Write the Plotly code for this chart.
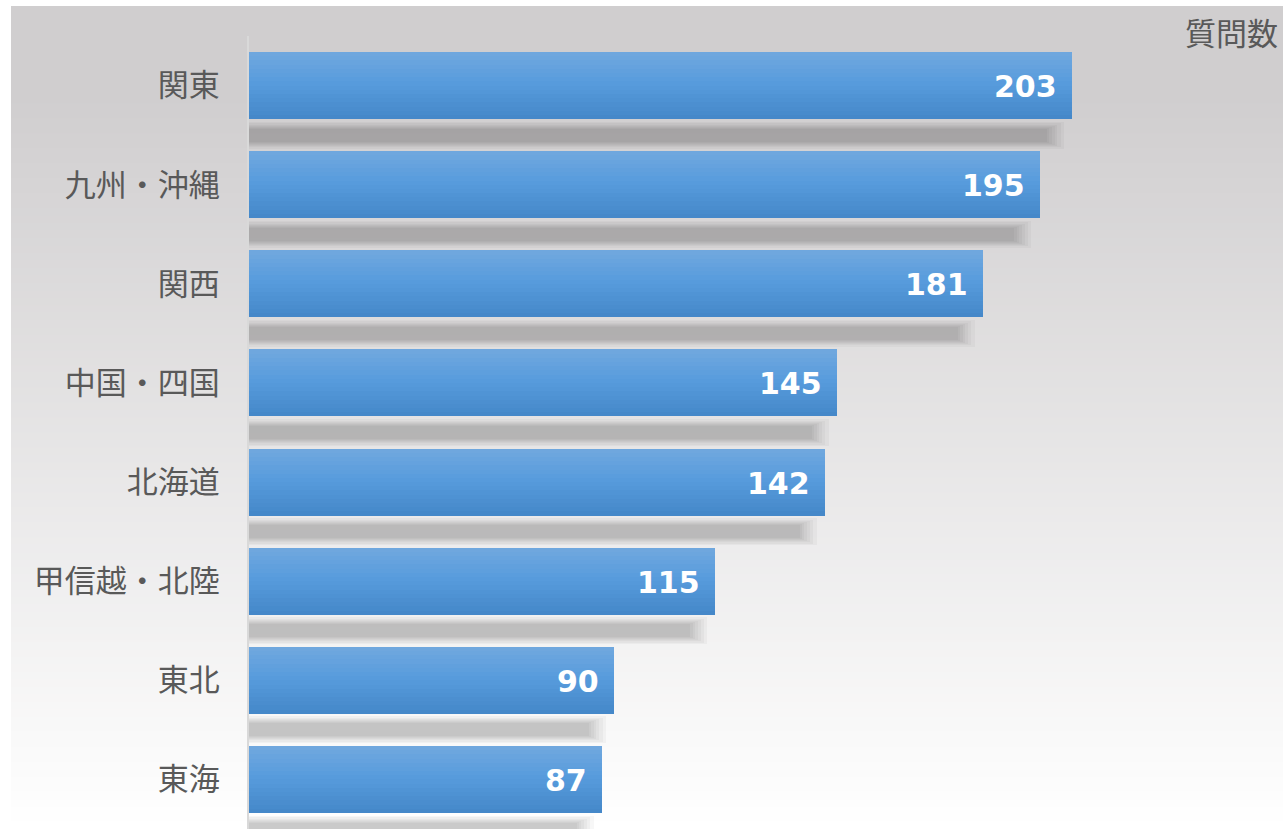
import plotly.graph_objects as go

# Questions per region
regions = ["関東", "九州・沖縄", "関西", "中国・四国", "北海道", "甲信越・北陸", "東北", "東海"]
questions = [203, 195, 181, 145, 142, 115, 90, 87]
value_title = "質問数"

W, H = 1283, 829
M_L, M_R, M_T, M_B = 249, 0, 36, 0
X_MAX = 255.05
BAR_W = 0.676
N_SLICES = 16

LABEL_FONT = "Noto Sans CJK JP, Noto Sans CJK SC, sans-serif"
VALUE_FONT = "DejaVu Sans, Verdana, sans-serif"
TEXT_GRAY = "#595959"


def mix(c0, c1, t):
    return tuple(round(a + (b - a) * t) for a, b in zip(c0, c1))


def bar_color(t):
    # vertical gradient of a bar: light top, saturated middle, darker bottom
    top, mid, bot = (113, 168, 222), (88, 156, 221), (68, 135, 200)
    if t < 0.45:
        c = mix(top, mid, t / 0.45)
    else:
        c = mix(mid, bot, (t - 0.45) / 0.55)
    return "rgb(%d,%d,%d)" % c


fig = go.Figure()

plot_h = H - M_T - M_B
plot_w = W - M_L - M_R
band_px = plot_h / len(regions)

# Soft drop shadows under each bar, built from stacked translucent bands
# (half height in px, trim from the bar end in value units)
shadow_layers = [(13.5, 2.0), (12.0, 2.8), (10.5, 3.6), (9.5, 4.3),
                 (8.5, 5.0), (7.5, 5.6), (6.5, 6.2)]
for half_px, trim in shadow_layers:
    half = half_px / band_px
    fig.add_trace(go.Bar(
        y=regions, x=[v - trim for v in questions], orientation="h",
        width=2 * half, offset=0.5 - half,
        marker=dict(color="rgba(0,0,0,0.03)", line=dict(width=0)),
        hoverinfo="skip", showlegend=False,
    ))

# Main bars, drawn as horizontal slices to give a vertical colour gradient
fig.add_trace(go.Bar(
    y=regions, x=questions, orientation="h", width=BAR_W, offset=-BAR_W / 2,
    marker=dict(color=bar_color(0.5), line=dict(width=0)),
    hovertemplate="%{y}: %{x}<extra></extra>", showlegend=False,
))
step = BAR_W / N_SLICES
for k in range(N_SLICES):
    off = -BAR_W / 2 + k * step
    w = min(step * 1.35, BAR_W / 2 - off)
    fig.add_trace(go.Bar(
        y=regions, x=questions, orientation="h", width=w, offset=off,
        marker=dict(color=bar_color((k + 0.5) / N_SLICES), line=dict(width=0)),
        hoverinfo="skip", showlegend=False,
    ))

# Value labels at the end of each bar
for r, v in zip(regions, questions):
    fig.add_annotation(
        x=v, y=r, xref="x", yref="y", text=str(v), showarrow=False,
        xanchor="right", yanchor="middle", xshift=-13, yshift=-1,
        font=dict(family=VALUE_FONT, size=30, color="white", weight="bold"),
    )

# Axis title in the top-right corner
fig.add_annotation(
    x=1, y=(H - 31 - M_B) / plot_h, xref="paper", yref="paper",
    text=value_title, showarrow=False, xanchor="right", yanchor="middle", xshift=-3,
    font=dict(family=LABEL_FONT, size=31, color=TEXT_GRAY),
)

# Background: grey at the top fading to white towards the bottom
shapes = []
y_top_px, y_bot_px = 6, H
n_strips = 110
strip = (y_bot_px - y_top_px) / n_strips
x0_paper = (11 - M_L) / plot_w
for i in range(n_strips):
    p0 = y_top_px + i * strip
    p1 = p0 + strip + 1
    yc = p0 + strip / 2
    t = min(max((yc - 95) / (830 - 95), 0), 1)
    c = mix((208, 206, 207), (255, 255, 255), t)
    shapes.append(dict(
        type="rect", xref="paper", yref="paper", layer="below",
        x0=x0_paper, x1=1.0 + 1 / plot_w,
        y0=(H - M_B - p1) / plot_h, y1=(H - M_B - p0) / plot_h,
        fillcolor="rgb(%d,%d,%d)" % c, line=dict(width=0),
    ))

fig.update_layout(
    width=W, height=H,
    margin=dict(l=M_L, r=M_R, t=M_T, b=M_B, pad=0),
    paper_bgcolor="white", plot_bgcolor="rgba(0,0,0,0)",
    barmode="overlay", bargap=0,
    shapes=shapes,
    showlegend=False,
    xaxis=dict(range=[0, X_MAX], visible=False, fixedrange=True),
    yaxis=dict(
        categoryorder="array", categoryarray=regions,
        range=[len(regions) - 0.5, -0.5],
        showline=True, linecolor="#d9d9d9", linewidth=2,
        showgrid=False, zeroline=False, ticks="",
        ticklabelstandoff=21,
        tickfont=dict(family=LABEL_FONT, size=31, color=TEXT_GRAY),
        fixedrange=True,
    ),
)

fig.write_html("out.html")
